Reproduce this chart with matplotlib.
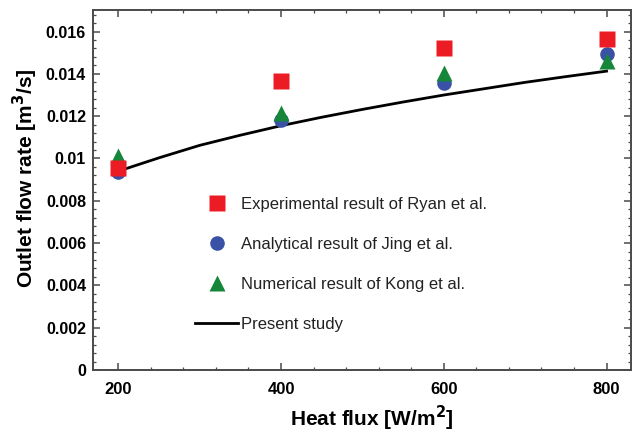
import matplotlib
matplotlib.use("Agg")
import matplotlib.pyplot as plt
from matplotlib.ticker import FixedLocator, MultipleLocator, FixedFormatter

# ---- data ----
heat_flux = [200, 400, 600, 800]
experimental_ryan = [0.00957, 0.01368, 0.01524, 0.01566]
analytical_jing = [0.00934, 0.01180, 0.01357, 0.01495]
numerical_kong = [0.01014, 0.01215, 0.01406, 0.01463]

study_flux = [200, 250, 300, 350, 400, 450, 500, 550, 600, 650, 700, 750, 800]
present_study = [0.00940, 0.01003, 0.01062, 0.01110, 0.01155, 0.01195, 0.01232,
                 0.01267, 0.01300, 0.01330, 0.01360, 0.01387, 0.01413]

x_ticks = [200, 400, 600, 800]
x_tick_labels = ["200", "400", "600", "800"]
y_ticks = [0, 0.002, 0.004, 0.006, 0.008, 0.01, 0.012, 0.014, 0.016]
y_tick_labels = ["0", "0.002", "0.004", "0.006", "0.008", "0.01", "0.012", "0.014", "0.016"]

labels = ["Experimental result of Ryan et al.", "Analytical result of Jing et al.",
          "Numerical result of Kong et al.", "Present study"]

# ---- figure ----
plt.rcParams['font.family'] = ['Liberation Sans', 'DejaVu Sans']
fig = plt.figure(figsize=(6.32, 4.32), dpi=100)
ax = fig.add_axes([93/632, 1-370/432, 538/632, 360/432])

red = '#EC1C24'
blue = '#3A52A6'
green = '#16873A'

ln, = ax.plot(study_flux, present_study, color='black', lw=2.0, zorder=2)
hc, = ax.plot(heat_flux, analytical_jing, 'o', color=blue, ms=10.5, mec='none', zorder=3)
ht, = ax.plot(heat_flux, numerical_kong, '^', color=green, ms=11.5, mec='none', zorder=4)
hs, = ax.plot(heat_flux, experimental_ryan, 's', color=red, ms=11, mec='none', zorder=5)

ax.set_xlim(169, 830)
ax.set_ylim(0, 0.01702)

ax.xaxis.set_major_locator(FixedLocator(x_ticks))
ax.xaxis.set_major_formatter(FixedFormatter(x_tick_labels))
ax.xaxis.set_minor_locator(MultipleLocator(40))
ax.yaxis.set_major_locator(FixedLocator(y_ticks))
ax.yaxis.set_major_formatter(FixedFormatter(y_tick_labels))
ax.yaxis.set_minor_locator(MultipleLocator(0.0004))

spine_col = '#4a4a4a'
for s in ax.spines.values():
    s.set_color(spine_col)
    s.set_linewidth(1.4)

ax.tick_params(which='both', direction='in', top=True, right=True, color=spine_col)
ax.tick_params(which='major', length=5, width=1.1)
ax.tick_params(which='minor', length=2.5, width=0.9)
ax.tick_params(axis='x', which='major', labelsize=12, pad=9)
ax.tick_params(axis='y', which='major', labelsize=11.5, pad=5)
for t in ax.get_xticklabels() + ax.get_yticklabels():
    t.set_fontweight('bold')

ax.set_xlabel("Heat flux [W/m$^\\mathbf{2}$]", fontsize=15, fontweight='bold')
ax.set_ylabel("Outlet flow rate [m$^\\mathbf{3}$/s]", fontsize=15, fontweight='bold')
ax.xaxis.set_label_coords(0.519, -0.094)
ax.yaxis.set_label_coords(-0.099, 0.533)

leg = ax.legend([hs, hc, ht, ln], labels, loc='upper left',
                bbox_to_anchor=(195/632, 1-197/432), bbox_transform=fig.transFigure,
                frameon=False, fontsize=12, handlelength=2.6, handletextpad=0.15,
                labelspacing=1.5, borderpad=0, borderaxespad=0, numpoints=1)
for t in leg.get_texts():
    t.set_color('#222222')

fig.savefig("out.png", dpi=100)
